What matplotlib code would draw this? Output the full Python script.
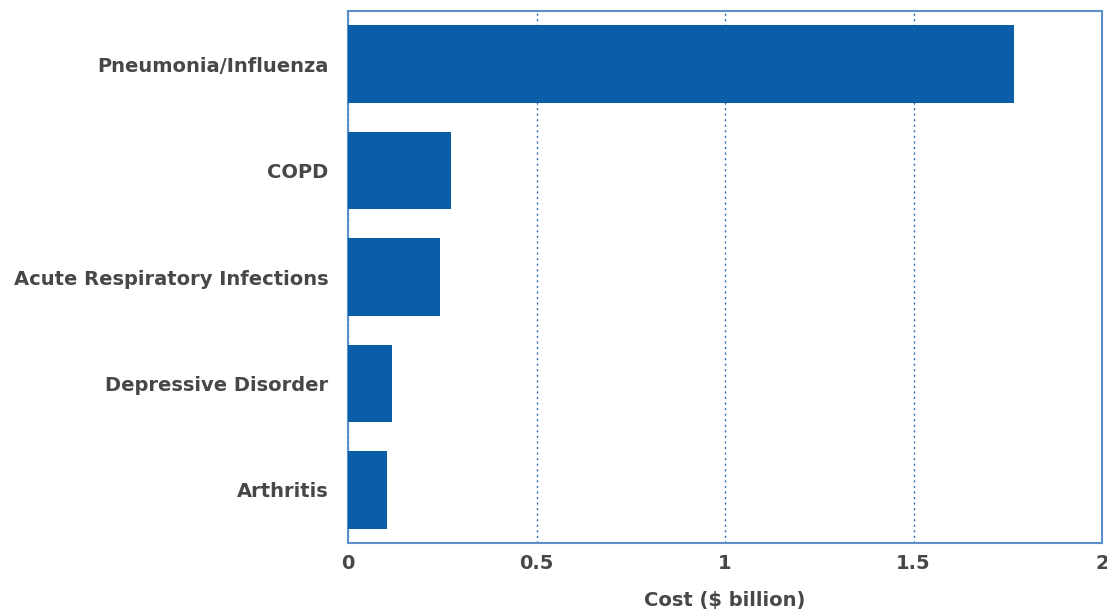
import matplotlib.pyplot as plt

categories = ['Pneumonia/Influenza', 'COPD', 'Acute Respiratory Infections',
              'Depressive Disorder', 'Arthritis']
cost = [1.767, 0.272, 0.243, 0.117, 0.103]
xticks = [0, 0.5, 1, 1.5, 2]
xtick_labels = ['0', '0.5', '1', '1.5', '2']

plt.rcParams['font.family'] = ['DejaVu Sans']

fig = plt.figure(figsize=(11.07, 6.11), dpi=100)
ax = fig.add_axes([348 / 1107, 1 - 543 / 611, 754 / 1107, 532 / 611])

ax.barh(range(len(categories)), cost, height=0.73, color='#0a5ea8', zorder=3)

ax.set_xlim(0, 2)
ax.set_ylim(4.5, -0.5)
ax.set_yticks(range(len(categories)))
ax.set_yticklabels(categories, fontsize=14, fontweight='bold', color='#474747')
ax.set_xticks(xticks)
ax.set_xticklabels(xtick_labels, fontsize=14, fontweight='bold', color='#474747')
ax.tick_params(axis='x', length=0, pad=8)
ax.tick_params(axis='y', length=0, pad=14)

ax.grid(axis='x', linestyle=(0, (1.5, 2.5)), color='#2f6db5', linewidth=1.0, zorder=0)
for s in ax.spines.values():
    s.set_color('#5b8fc7')
    s.set_linewidth(1.5)

ax.set_xlabel('Cost ($ billion)', fontsize=14, fontweight='bold', color='#474747', labelpad=13)

fig.savefig('out.png', dpi=100)
